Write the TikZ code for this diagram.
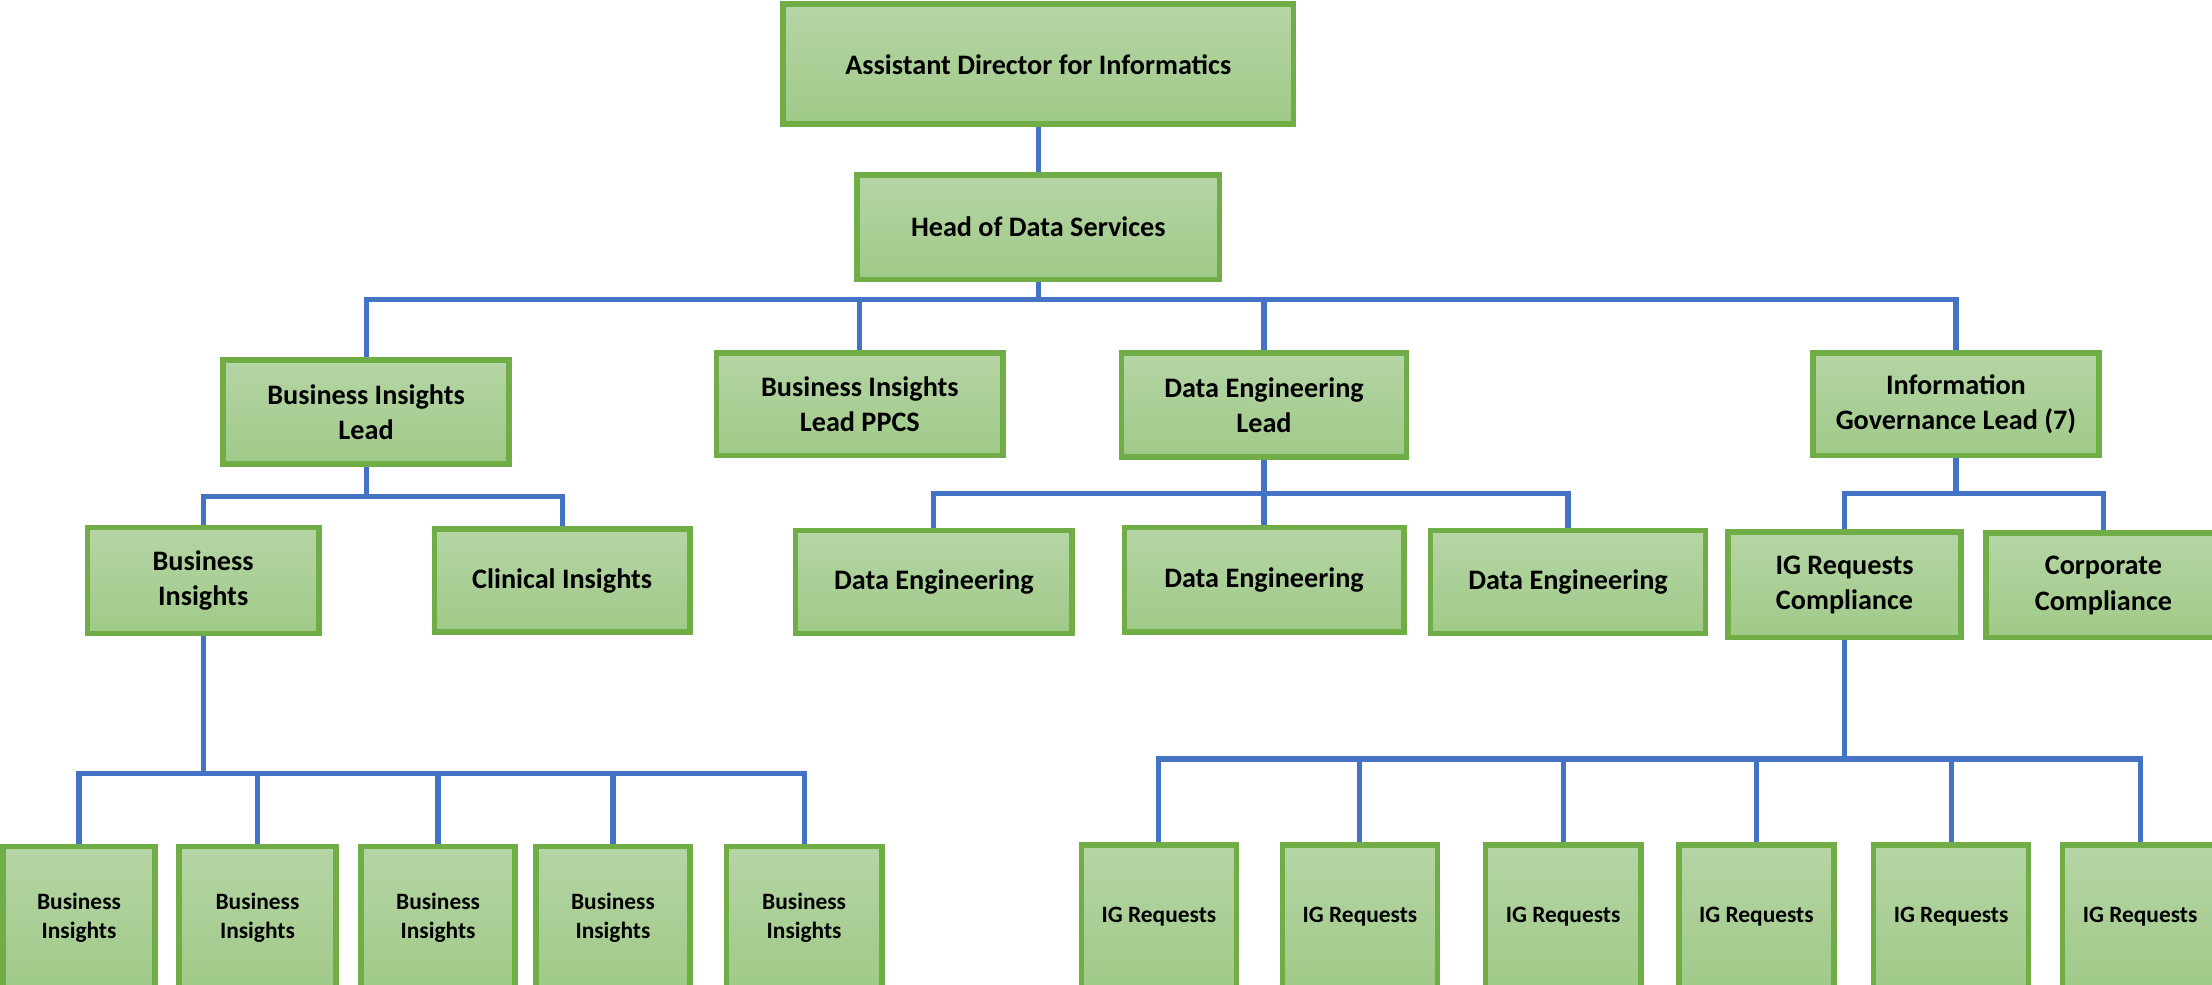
\documentclass[tikz,border=0pt]{standalone}
\usepackage{fontspec}
\setmainfont{Carlito}
\definecolor{boxtop}{HTML}{B5D5A5}
\definecolor{boxbottom}{HTML}{A0CA88}
\definecolor{boxedge}{HTML}{70AD47}
\definecolor{linkblue}{HTML}{4472C4}
\begin{document}
\begin{tikzpicture}
[x=0.5pt,y=-0.5pt,
  boxdecorate/.style={draw=boxedge,line width=2pt,top color=boxtop,
    bottom color=boxbottom,align=center,inner sep=0pt,
    font=\fontsize{10}{12.5}\selectfont\bfseries},
  smalldecorate/.style={boxdecorate,font=\fontsize{8.3}{10}\selectfont\bfseries},
  linedecorate/.style={-,draw=linkblue,line width=1.8pt}]
\useasboundingbox (0,0) rectangle (1568,698);
%% upper boxes
\foreach \nodename/\x/\y/\w/\h/\caption in {
  dir/736/45.5/362/85/{Assistant Director for Informatics},
  head/736/161/257/74/{Head of Data Services},
  bil/259.5/292/203/74/{Business Insights\\Lead},
  bip/609.5/286.5/203/73/{Business Insights\\Lead PPCS},
  del/896/287/202/74/{Data Engineering\\Lead},
  igl/1386.5/286.5/203/73/{Information\\Governance Lead (7)},
  bi/144/411.5/164/75/{Business\\Insights},
  ci/398.5/411.5/181/73/{Clinical Insights},
  de1/662/412.5/196/73/{Data Engineering},
  de2/896/411/198/74/{Data Engineering},
  de3/1111.5/412.5/195/73/{Data Engineering},
  igr/1307.5/414.5/165/75/{IG Requests\\Compliance},
  cc/1491/415/166/74/{Corporate\\Compliance}} {
  \node (\nodename) at (\x,\y) [boxdecorate,minimum width=\w*0.5pt,
    minimum height=\h*0.5pt] {\caption};
}
%% bottom rows
\foreach \nodename/\x/\w in {bi1/56/108, bi2/182.5/111, bi3/310.5/109,
  bi4/434.5/109, bi5/570/110} {
  \node (\nodename) at (\x,650.5) [smalldecorate,minimum width=\w*0.5pt,
    minimum height=101*0.5pt] {Business\\Insights};
}
\foreach \nodename/\x in {ig1/821.5, ig2/964, ig3/1108, ig4/1245,
  ig5/1383, ig6/1517} {
  \node (\nodename) at (\x,650) [smalldecorate,minimum width=110*0.5pt,
    minimum height=102*0.5pt] {IG Requests};
}
%% connectors
\draw[linedecorate] (dir) -- (head);
\foreach \parent/\bus/\children in {head/212/{bil,bip,del,igl},
  bil/352/{bi,ci}, del/350/{de1,de2,de3}, igl/350/{igr,cc},
  bi/548/{bi1,bi2,bi3,bi4,bi5}, igr/538/{ig1,ig2,ig3,ig4,ig5,ig6}} {
  \foreach \child in \children {
    \draw[linedecorate] (\parent.south) -- (\parent.south |- 0,\bus)
      -| (\child.north);
  }
}
\end{tikzpicture}
\end{document}
